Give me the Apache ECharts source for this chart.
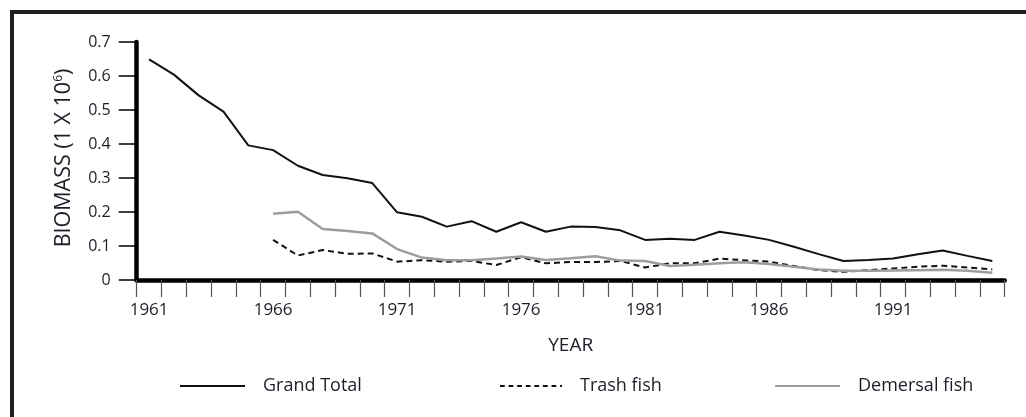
<!DOCTYPE html>
<html>
<head>
<meta charset="utf-8">
<script src="https://cdn.jsdelivr.net/npm/echarts@6/dist/echarts.min.js"></script>
<style>
html,body{margin:0;padding:0;background:#fff;}
#main{width:1026px;height:417px;}
</style>
</head>
<body>
<div id="main"></div>
<script>
var years = ['1961','1962','1963','1964','1965','1966','1967','1968','1969','1970',
  '1971','1972','1973','1974','1975','1976','1977','1978','1979','1980',
  '1981','1982','1983','1984','1985','1986','1987','1988','1989','1990',
  '1991','1992','1993','1994','1995'];
var grandTotal = [0.649,0.604,0.543,0.495,0.396,0.382,0.336,0.309,0.299,0.285,
  0.199,0.186,0.157,0.173,0.142,0.170,0.142,0.157,0.156,0.146,
  0.118,0.121,0.118,0.142,0.131,0.118,0.098,0.076,0.056,0.059,
  0.063,0.076,0.087,0.071,0.056];
var trashFish = [null,null,null,null,null,0.118,0.072,0.088,0.077,0.078,
  0.054,0.058,0.054,0.056,0.044,0.067,0.049,0.053,0.053,0.056,
  0.037,0.049,0.049,0.063,0.058,0.054,0.041,0.029,0.024,0.029,
  0.034,0.039,0.042,0.037,0.031];
var demersalFish = [null,null,null,null,null,0.195,0.201,0.150,0.144,0.137,
  0.091,0.066,0.058,0.058,0.063,0.069,0.059,0.064,0.070,0.057,
  0.056,0.041,0.045,0.049,0.052,0.047,0.039,0.031,0.027,0.027,
  0.028,0.029,0.030,0.027,0.021];
var seriesNames = ['Grand Total', 'Trash fish', 'Demersal fish'];

var FONT = 'Open Sans';
var TXT = '#1e1e28';
var ICON_SOLID = 'path://M0,0h65v2h-65z';
var ICON_DASH = 'path://M0,0h5v2h-5zM9,0h5v2h-5zM18,0h5v2h-5zM27,0h5v2h-5zM36,0h5v2h-5zM45,0h5v2h-5zM54,0h5v2h-5zM63,0h2v2h-2z';
var chart = echarts.init(document.getElementById('main'), null, {renderer:'canvas'});
function legendFor(name, icon, left, width) {
  return {
    data: [{name: name, icon: icon}], left: left, top: 372, itemWidth: width, itemHeight: 2, itemGap: 0,
    textStyle: {fontFamily: FONT, fontSize: 18, color: TXT, padding: [0,0,0,13]},
    selectedMode: false
  };
}
chart.setOption({
  animation: false,
  backgroundColor: '#ffffff',
  graphic: [
    {type:'rect', shape:{x:10, y:10, width:1016, height:4}, style:{fill:'#231f20'}},
    {type:'rect', shape:{x:10, y:10, width:4, height:407}, style:{fill:'#231f20'}}
  ],
  grid: {left: 136.7, right: 21.3, top: 42, bottom: 137},
  legend: [
    legendFor(seriesNames[0], ICON_SOLID, 175, 65),
    legendFor(seriesNames[1], ICON_DASH, 495, 62),
    legendFor(seriesNames[2], ICON_SOLID, 770, 65)
  ],
  xAxis: {
    type: 'category', data: years, boundaryGap: true,
    name: 'YEAR', nameLocation: 'middle', nameGap: 56,
    nameTextStyle: {fontFamily: FONT, fontSize: 19, color: TXT},
    axisLine: {show: true, lineStyle: {color: '#000', width: 4.5}},
    axisTick: {show: true, inside: false, alignWithLabel: false, interval: 0, length: 17, lineStyle: {color: '#555', width: 1.2}},
    axisLabel: {show: true, interval: 4, margin: 22, fontFamily: FONT, fontSize: 17, color: TXT},
    splitLine: {show: false}
  },
  yAxis: {
    type: 'value', min: 0, max: 0.7, interval: 0.1,
    name: '{a|BIOMASS (1 X 10}{s|6}{a|)}', nameLocation: 'middle', nameGap: 62, nameRotate: 90,
    nameTextStyle: {
      fontFamily: FONT, fontSize: 21.5, color: TXT, padding: [0, 0, 0, 6],
      rich: {
        a: {fontFamily: FONT, fontSize: 21.5, color: TXT},
        s: {fontFamily: FONT, fontSize: 12, color: TXT, verticalAlign: 'top', padding: [0,0,8,0]}
      }
    },
    axisLine: {show: true, lineStyle: {color: '#000', width: 4.5}},
    axisTick: {show: true, inside: false, length: 18, lineStyle: {color: '#000', width: 1.5}},
    axisLabel: {margin: 26, fontFamily: FONT, fontSize: 16, color: TXT,
      formatter: function (v) { return String(Math.round(v * 10) / 10); }},
    splitLine: {show: false}
  },
  series: [
    {name: seriesNames[0], type: 'line', data: grandTotal, symbol: 'none',
      lineStyle: {color: '#111', width: 2}, itemStyle: {color: '#111'}},
    {name: seriesNames[1], type: 'line', data: trashFish, symbol: 'none',
      lineStyle: {color: '#111', width: 2, type: [6,4]}, itemStyle: {color: '#111'}},
    {name: seriesNames[2], type: 'line', data: demersalFish, symbol: 'none',
      lineStyle: {color: '#9d9d9d', width: 2.5}, itemStyle: {color: '#9d9d9d'}}
  ]
});
</script>
</body>
</html>
